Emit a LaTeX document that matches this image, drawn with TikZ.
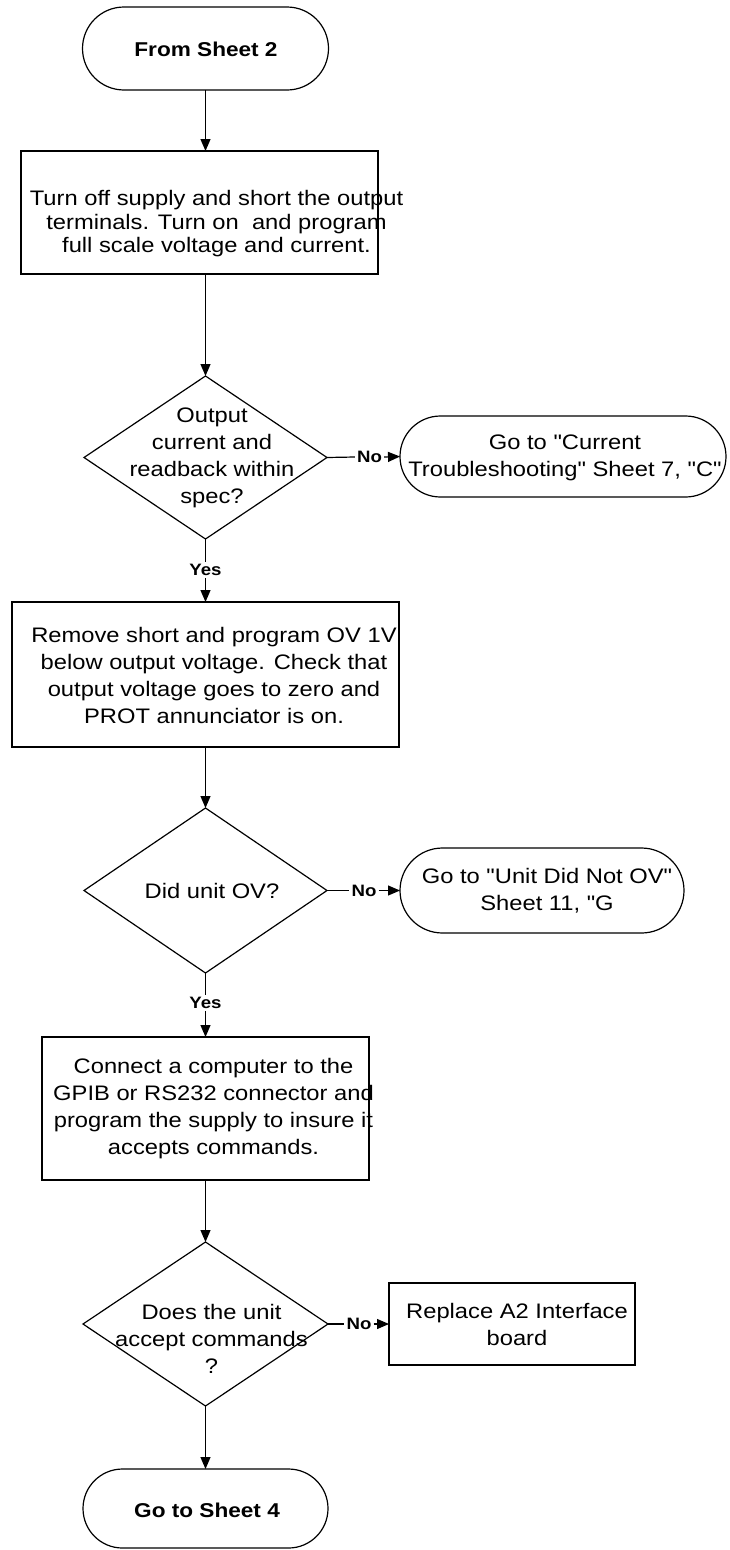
\documentclass[tikz,border=0pt]{standalone}
\usepackage{fontspec}
\setmainfont[FakeStretch=1.13, Ligatures=TeXOff]{Liberation Sans}
\usetikzlibrary{shapes.misc,arrows.meta}
\tikzset{
  shp/.style={draw, line width=1.2pt, inner sep=0pt, outer sep=0pt},
  termbox/.style={shp, rounded rectangle},
  procbox/.style={shp, rectangle},
  decbox/.style={inner sep=0pt, outer sep=0pt, rectangle},
  body/.style={align=center, inner sep=0pt, font=\fontsize{21}{27}\selectfont},
  boldtxt/.style={align=center, inner sep=0pt, font=\fontsize{20}{24}\selectfont\bfseries},
  lbl/.style={inner sep=2pt, font=\fontsize{16.5}{18}\selectfont\bfseries},
  ln/.style={line width=1.2pt},
  arr/.style={line width=1.2pt, -{Triangle[length=12pt,width=10pt]}},
}
\begin{document}
\begin{tikzpicture}[x=1pt,y=-1pt]
\useasboundingbox (0,0) rectangle (729,1550);
% terminal 1
\node[termbox, minimum width=246pt, minimum height=83pt] (t1) at (205.5,48.5) {};
\node[boldtxt] (t1t) at (206,49) {From Sheet 2};
% box 1
\node[procbox, minimum width=357pt, minimum height=123pt] (b1) at (199.5,212.5) {};
\node[body, font=\fontsize{21}{23.5}\selectfont] (b1t) at (216.5,224) {Turn off supply and short the output\\terminals. Turn on\ \ and program\\full scale voltage and current.};
% decision 1
\node[decbox, minimum width=243pt, minimum height=163pt] (d1) at (205.5,457.5) {};
\draw[shp] (d1.north) -- (d1.east) -- (d1.south) -- (d1.west) -- cycle;
\node[body] (d1t) at (212,458) {Output\\current and\\readback within\\spec?};
% terminal 2
\node[termbox, minimum width=326pt, minimum height=81pt] (t2) at (563,456.5) {};
\node[body] (t2t) at (565,458) {Go to "Current\\Troubleshooting" Sheet 7, "C"};
% box 2
\node[procbox, minimum width=387pt, minimum height=145pt] (b2) at (205.5,674.5) {};
\node[body] (b2t) at (214,675) {Remove short and program OV 1V\\below output voltage. Check that\\output voltage goes to zero and\\PROT annunciator is on.};
% decision 2
\node[decbox, minimum width=243pt, minimum height=165pt] (d2) at (205.5,890.5) {};
\draw[shp] (d2.north) -- (d2.east) -- (d2.south) -- (d2.west) -- cycle;
\node[body] (d2t) at (212,891) {Did unit OV?};
% terminal 3
\node[termbox, minimum width=284pt, minimum height=85pt] (t3) at (542,890.5) {};
\node[body] (t3t) at (547,891) {Go to "Unit Did Not OV"\\Sheet 11, "G};
% box 3
\node[procbox, minimum width=327pt, minimum height=143pt] (b3) at (205.5,1108.5) {};
\node[body] (b3t) at (213.5,1108.5) {Connect a computer to the\\GPIB or RS232 connector and\\program the supply to insure it\\accepts commands.};
% decision 3
\node[decbox, minimum width=245pt, minimum height=164pt] (d3) at (205.5,1324) {};
\draw[shp] (d3.north) -- (d3.east) -- (d3.south) -- (d3.west) -- cycle;
\node[body] (d3t) at (211.5,1338.5) {Does the unit\\accept commands\\?};
% box 4
\node[procbox, minimum width=246pt, minimum height=82pt] (b4) at (512,1324) {};
\node[body] (b4t) at (517,1324) {Replace A2 Interface\\board};
% terminal 4
\node[termbox, minimum width=245pt, minimum height=79pt] (t4) at (205.5,1508.5) {};
\node[boldtxt] (t4t) at (207,1510) {Go to Sheet 4};
% labels
\node[lbl] (no1) at (369.5,457) {No};
\node[lbl] (no2) at (364,890.5) {No};
\node[lbl] (no3) at (359,1324) {No};
\node[lbl] (yes1) at (205.5,570) {Yes};
\node[lbl] (yes2) at (205.5,1003) {Yes};
% connectors
\draw[arr] (t1.south) -- (t1.south |- b1.north);
\draw[arr] (d1.north |- b1.south) -- (d1.north);
\draw[ln] (d1.east) -- (no1.west);
\draw[arr] (no1.east) -- (t2.west);
\draw[ln] (d1.south) -- (yes1.north);
\draw[arr] (yes1.south) -- (b2.north);
\draw[arr] (b2.south) -- (d2.north);
\draw[ln] (d2.east) -- (no2.west);
\draw[arr] (no2.east) -- (t3.west);
\draw[ln] (d2.south) -- (yes2.north);
\draw[arr] (yes2.south) -- (b3.north);
\draw[arr] (b3.south) -- (d3.north);
\draw[ln] (d3.east) -- (no3.west);
\draw[arr] (no3.east) -- (b4.west);
\draw[arr] (d3.south) -- (t4.north);
\end{tikzpicture}
\end{document}
